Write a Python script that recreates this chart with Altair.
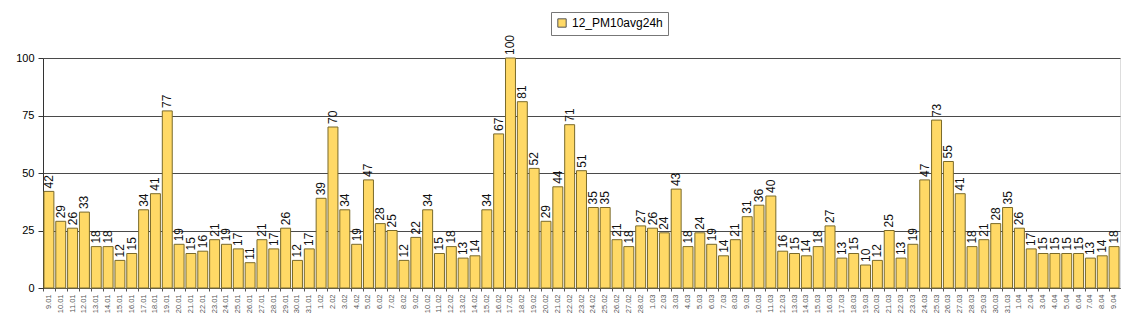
import altair as alt
import pandas as pd

jan_days = list(range(9, 32))
jan_vals = [42, 29, 26, 33, 18, 18, 12, 15, 34, 41, 77, 19, 15, 16, 21, 19, 17, 11, 21, 17, 26, 12, 17]
feb_days = list(range(1, 29))
feb_vals = [39, 70, 34, 19, 47, 28, 25, 12, 22, 34, 15, 18, 13, 14, 34, 67, 100, 81, 52, 29, 44, 71, 51, 35, 35, 21, 18, 27]
mar_days = list(range(1, 32))
mar_vals = [26, 24, 43, 18, 24, 19, 14, 21, 31, 36, 40, 16, 15, 14, 18, 27, 13, 15, 10, 12, 25, 13, 19, 47, 73, 55, 41, 18, 21, 28, 35]
apr_days = list(range(1, 10))
apr_vals = [26, 17, 15, 15, 15, 15, 13, 14, 18]

labels = ([f"{d}.01" for d in jan_days] + [f"{d}.02" for d in feb_days]
          + [f"{d}.03" for d in mar_days] + [f"{d}.04" for d in apr_days])
values = jan_vals + feb_vals + mar_vals + apr_vals
series = "12_PM10avg24h"

df = pd.DataFrame({"date": labels, "value": values, "series": series})

x = alt.X("date:N", sort=labels, title=None,
          scale=alt.Scale(paddingInner=0.16, paddingOuter=0.08),
          axis=alt.Axis(labelAngle=-90, labelFontSize=7.5, labelColor="#555",
                        labelFont="Liberation Sans", labelPadding=3,
                        tickSize=3, bandPosition=0, domainColor="#555",
                        tickColor="#555", labelBaseline="middle"))
y = alt.Y("value:Q", title=None,
          scale=alt.Scale(domain=[0, 100], nice=False),
          axis=alt.Axis(values=[0, 25, 50, 75, 100], labelFontSize=11,
                        labelFont="Liberation Sans", labelColor="#000",
                        tickSize=5, tickColor="#333", domainColor="#333",
                        gridColor="#4a4a4a", gridWidth=1, labelPadding=4))

bars = alt.Chart(df).mark_bar(stroke="#7a6a2a", strokeWidth=1).encode(
    x=x, y=y,
    color=alt.Color("series:N", title=None,
                    scale=alt.Scale(domain=[series], range=["#FFD966"]),
                    legend=alt.Legend(orient="none", legendX=508, legendY=-46,
                                      symbolType="square", symbolSize=70,
                                      symbolStrokeColor="#555", symbolStrokeWidth=1,
                                      labelFontSize=12, labelFont="Liberation Sans",
                                      labelColor="#000",
                                      strokeColor="#777", fillColor="white",
                                      padding=5))
)

texts = alt.Chart(df).mark_text(angle=270, align="left", baseline="middle",
                                dx=3, fontSize=12, font="Liberation Sans",
                                color="#111").encode(
    x=alt.X("date:N", sort=labels), y="value:Q", text="value:Q"
)

chart = (bars + texts).properties(
    width=1077, height=230,
    autosize=alt.AutoSizeParams(type="none"),
    padding={"left": 43, "top": 58, "right": 25, "bottom": 48},
).configure_view(fill="#C0C0C0", stroke="#888", strokeWidth=1
).configure(background="white")

chart.save("out.html", embed_options={"renderer": "svg", "actions": False})
